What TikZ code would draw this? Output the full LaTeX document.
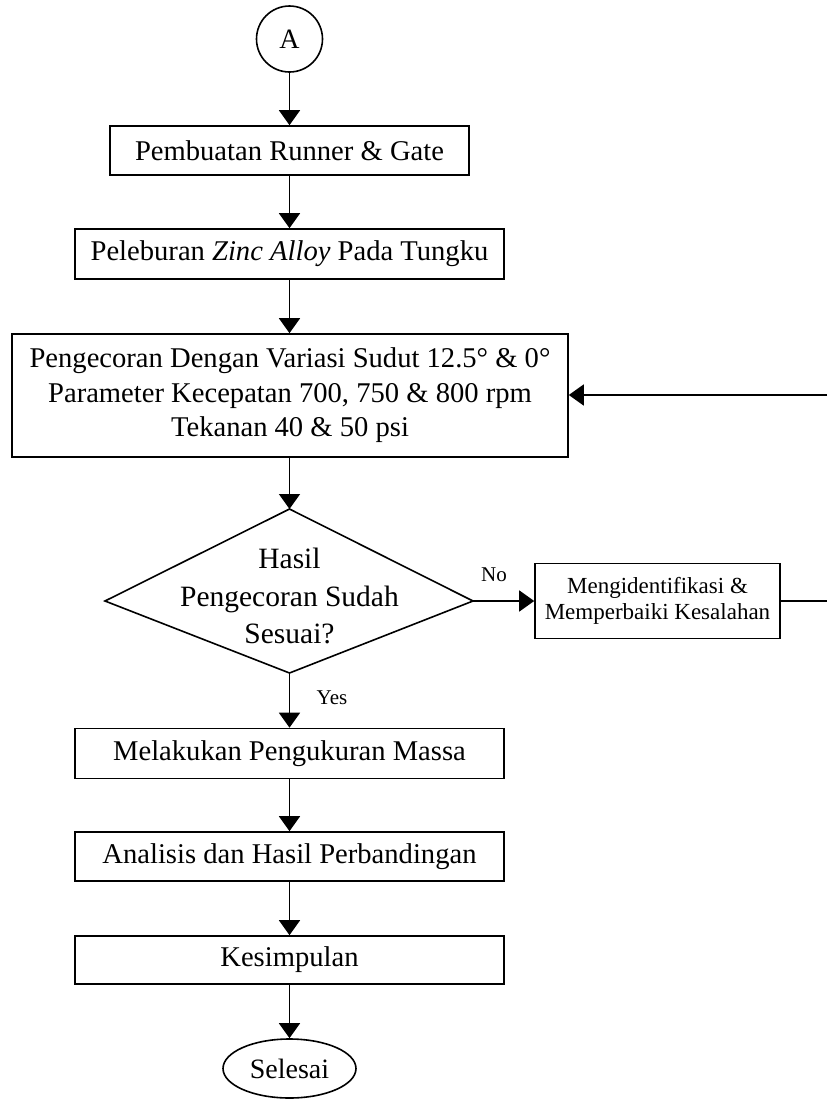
\documentclass[tikz,border=0pt]{standalone}
\usepackage{fontspec}
\setmainfont{Liberation Serif}
\usetikzlibrary{arrows.meta,shapes.geometric}
\begin{document}
\begin{tikzpicture}[x=0.5pt,y=-0.5pt,
  line width=0.8pt,
  arr/.style={-{Triangle[width=10.5pt,length=7.5pt]}},
  procbox/.style={draw,rectangle,inner sep=0pt,align=center,font=\fontsize{14.3}{17.2}\selectfont},
  lbl/.style={font=\fontsize{10.5}{12}\selectfont,inner sep=0pt}]
\useasboundingbox (0,0) rectangle (827,1100);
% start connector
\node[draw,circle,minimum size=33pt,inner sep=0pt,font=\fontsize{14}{16}\selectfont] (A) at (289.5,39) {A};
\node[procbox,minimum width=179.5pt,minimum height=24.5pt] (b1) at (289.5,150.5) {Pembuatan Runner \& Gate};
\node[procbox,minimum width=214.5pt,minimum height=25pt] (b2) at (289.5,254) {Peleburan \textit{Zinc Alloy} Pada Tungku};
\node[procbox,minimum width=278pt,minimum height=61.5pt] (b3) at (290,395.5) {Pengecoran Dengan Variasi Sudut 12.5° \& 0°\\Parameter Kecepatan 700, 750 \& 800 rpm\\Tekanan 40 \& 50 psi};
% decision (asymmetric diamond)
\coordinate (dT) at (289.5,509);
\coordinate (dR) at (473,601);
\coordinate (dB) at (289.5,673);
\coordinate (dL) at (105,601);
\draw (dT) -- (dR) -- (dB) -- (dL) -- cycle;
\node[align=center,inner sep=0pt,font=\fontsize{14.75}{18.75}\selectfont] (dtext) at (289.5,596) {Hasil\\Pengecoran Sudah\\Sesuai?};
\node[draw,rectangle,inner sep=0pt,align=center,minimum width=122.5pt,minimum height=37.5pt,font=\fontsize{11.5}{13}\selectfont] (fix) at (657.5,601) {Mengidentifikasi \&\\Memperbaiki Kesalahan};
\node[procbox,minimum width=214.5pt,minimum height=25pt] (b4) at (289.5,753.5) {Melakukan Pengukuran Massa};
\node[procbox,minimum width=214.5pt,minimum height=24.5pt] (b5) at (289.5,856.5) {Analisis dan Hasil Perbandingan};
\node[procbox,minimum width=214.5pt,minimum height=24pt] (b6) at (289.5,960) {Kesimpulan};
\node[draw,ellipse,minimum width=66.5pt,minimum height=29.5pt,inner sep=0pt,font=\fontsize{14}{16}\selectfont] (end) at (289.5,1068.5) {Selesai};
\coordinate (fbR) at (827,395);
\coordinate (fxR) at (827,601);
% connectors
\draw[arr] (A) -- (b1);
\draw[arr] (b1) -- (b2);
\draw[arr] (b2) -- (b1.south |- b3.north);
\draw[arr] (b3.south -| dT) -- (dT);
\draw[arr] (dR) -- (fix.west |- dR);
\draw (fix.east) -- (fxR);
\draw[arr] (fbR) -- (b3.east |- fbR);
\draw[arr] (dB) -- (b4);
\draw[arr] (b4) -- (b5);
\draw[arr] (b5) -- (b6);
\draw[arr] (b6) -- (end);
\node[lbl] (no) at (494,575) {No};
\node[lbl] (yes) at (332,698) {Yes};
\end{tikzpicture}
\end{document}
